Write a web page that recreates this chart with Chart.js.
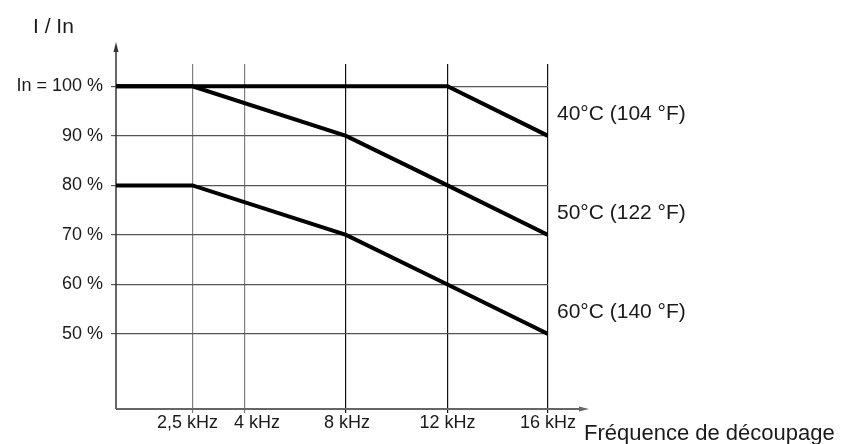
<!DOCTYPE html>
<html>
<head>
<meta charset="utf-8">
<script src="https://cdn.jsdelivr.net/npm/chart.js@4/dist/chart.umd.min.js"></script>
<style>
  html, body { margin: 0; padding: 0; background: #fff; }
  #wrap { width: 845px; height: 444px; position: relative; }
</style>
</head>
<body>
<div id="wrap"><canvas id="c" width="845" height="444"></canvas></div>
<script>
// ---- data ----
const frequencies = [0, 2.5, 8, 12, 16];          // kHz
const derating40 = [100, 100, 100, 100, 90];      // %
const derating50 = [100, 100, 90, 80, 70];
const derating60 = [80, 80, 70, 60, 50];
const seriesLabels = ['40°C (104 °F)', '50°C (122 °F)', '60°C (140 °F)'];
const xTickValues = [2.5, 4, 8, 12, 16];
const xTickLabels = ['2,5 kHz', '4 kHz', '8 kHz', '12 kHz', '16 kHz'];
const yTickValues = [50, 60, 70, 80, 90, 100];
const yTickLabels = ['50 %', '60 %', '70 %', '80 %', '90 %', 'In = 100 %'];
const yTitle = 'I / In';
const xTitle = 'Fréquence de découpage';

// ---- schematic (non-linear) frequency axis: value -> fraction of axis width ----
const X_AXIS_MAP = [[0, 0], [2.5, 0.1771], [4, 0.2986], [8, 0.5324], [12, 0.7674], [16, 1]];

class PiecewiseScale extends Chart.LinearScale {
  getPixelForValue(value) {
    const b = X_AXIS_MAP;
    let f;
    if (value <= b[0][0]) f = b[0][1];
    else if (value >= b[b.length - 1][0]) f = b[b.length - 1][1];
    else {
      for (let i = 1; i < b.length; i++) {
        if (value <= b[i][0]) {
          const v0 = b[i - 1][0], f0 = b[i - 1][1], v1 = b[i][0], f1 = b[i][1];
          f = f0 + (value - v0) / (v1 - v0) * (f1 - f0);
          break;
        }
      }
    }
    return this.getPixelForDecimal(f);
  }
  getValueForPixel(pixel) {
    const f = this.getDecimalForPixel(pixel);
    const b = X_AXIS_MAP;
    for (let i = 1; i < b.length; i++) {
      if (f <= b[i][1]) {
        const v0 = b[i - 1][0], f0 = b[i - 1][1], v1 = b[i][0], f1 = b[i][1];
        return v0 + (f - f0) / (f1 - f0) * (v1 - v0);
      }
    }
    return b[b.length - 1][0];
  }
}
PiecewiseScale.id = 'piecewise';
Chart.register(PiecewiseScale);

const FONT = '"Liberation Sans", Arial, sans-serif';
const TEXT = '#1a1a1a';

function toPoints(ys) { return frequencies.map((x, i) => ({ x: x, y: ys[i] })); }

const lineStyle = {
  borderColor: '#000', borderWidth: 4, pointRadius: 0, tension: 0,
  fill: false, borderCapStyle: 'butt', borderJoinStyle: 'miter'
};

const decorPlugin = {
  id: 'decor',
  beforeDatasetsDraw(chart) {
    const ctx = chart.ctx, a = chart.chartArea;
    ctx.save();
    // y axis with arrow
    ctx.strokeStyle = '#333'; ctx.fillStyle = '#333'; ctx.lineWidth = 1.5;
    ctx.beginPath(); ctx.moveTo(a.left, a.bottom); ctx.lineTo(a.left, 50); ctx.stroke();
    ctx.beginPath(); ctx.moveTo(a.left, 42); ctx.lineTo(a.left - 2.5, 52); ctx.lineTo(a.left + 2.5, 52); ctx.closePath(); ctx.fill();
    // x axis with arrow
    ctx.strokeStyle = '#666'; ctx.fillStyle = '#666'; ctx.lineWidth = 2;
    ctx.beginPath(); ctx.moveTo(a.left, a.bottom); ctx.lineTo(580, a.bottom); ctx.stroke();
    ctx.beginPath(); ctx.moveTo(589, a.bottom); ctx.lineTo(579, a.bottom - 2.5); ctx.lineTo(579, a.bottom + 2.5); ctx.closePath(); ctx.fill();
    ctx.restore();
  },
  afterDraw(chart) {
    const ctx = chart.ctx, xs = chart.scales.x, ys = chart.scales.y;
    ctx.save();
    ctx.fillStyle = TEXT;
    // x tick labels (small nudges to avoid overlap, as in the original)
    const nudges = [-5, 12, 1, 0, 0];
    ctx.font = '18px ' + FONT; ctx.textAlign = 'center'; ctx.textBaseline = 'alphabetic';
    xTickValues.forEach((v, i) => ctx.fillText(xTickLabels[i], xs.getPixelForValue(v) + nudges[i], 428));
    // titles
    ctx.font = '21px ' + FONT; ctx.textAlign = 'left';
    ctx.fillText(yTitle, 33, 33);
    ctx.font = '22px ' + FONT;
    ctx.fillText(xTitle, 584, 440);
    // series labels at the line ends
    ctx.font = '21px ' + FONT; ctx.textBaseline = 'middle';
    chart.data.datasets.forEach((ds, i) => {
      const last = ds.data[ds.data.length - 1];
      ctx.fillText(seriesLabels[i], 557, ys.getPixelForValue(last.y + 4.6) + 1);
    });
    ctx.restore();
  }
};

new Chart(document.getElementById('c'), {
  type: 'line',
  data: {
    datasets: [
      Object.assign({ label: seriesLabels[0], data: toPoints(derating40) }, lineStyle),
      Object.assign({ label: seriesLabels[1], data: toPoints(derating50) }, lineStyle),
      Object.assign({ label: seriesLabels[2], data: toPoints(derating60) }, lineStyle)
    ]
  },
  options: {
    responsive: false,
    animation: false,
    layout: { padding: { left: 0, top: 64, right: 297, bottom: 0 } },
    plugins: { legend: { display: false }, tooltip: { enabled: false } },
    scales: {
      x: {
        type: 'piecewise', min: 0, max: 16,
        afterBuildTicks: s => { s.ticks = xTickValues.map(v => ({ value: v })); },
        afterFit: s => { s.height = 35; },
        border: { display: false },
        grid: {
          color: c => (c.tick && c.tick.value < 5 ? '#808080' : '#111'),
          lineWidth: 1.2, drawTicks: true, tickLength: 4
        },
        ticks: { display: false }
      },
      y: {
        type: 'linear', min: 34.88, max: 104.5,
        afterBuildTicks: s => { s.ticks = yTickValues.map(v => ({ value: v })); },
        afterFit: s => { s.width = 116; },
        border: { display: false },
        grid: { color: '#555', lineWidth: 1.2, drawTicks: true, tickLength: 5 },
        ticks: {
          padding: 8, color: TEXT,
          font: { family: FONT, size: 18 },
          callback: v => { const i = yTickValues.indexOf(v); return i >= 0 ? yTickLabels[i] : ''; }
        }
      }
    }
  },
  plugins: [decorPlugin]
});
</script>
</body>
</html>
